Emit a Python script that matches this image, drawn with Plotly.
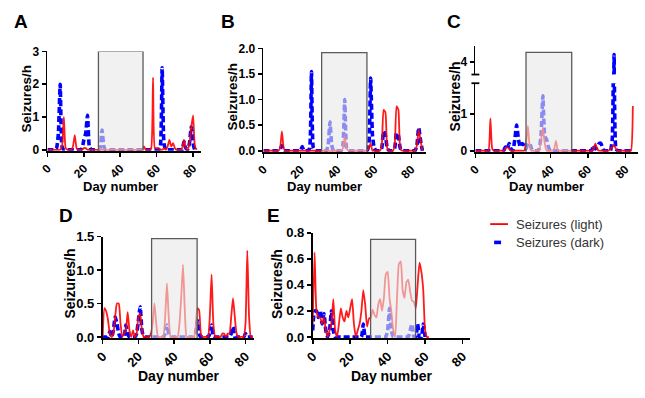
import plotly.graph_objects as go

W, H = 645, 398
RED = "#FF0000"
BLUE = "#0000FF"
FONT = "Liberation Sans"

# ---------------- data ----------------
days_A = list(range(0, 83))
A_light = [0, 0, 0, 0, 0, 0, 0, 0, 0.1, 1.0,
           0.05, 0, 0, 0, 0.1, 0.45, 0.05, 0, 0, 0,
           0.05, 0.05, 0, 0, 0, 0, 0, 0, 0, 0.05,
           0, 0, 0, 0, 0, 0, 0, 0, 0, 0,
           0, 0, 0, 0, 0, 0, 0, 0, 0, 0,
           0, 0, 0, 0.1, 0, 0, 0, 0.05, 2.2, 0.05,
           0.05, 0.05, 0, 0, 0.05, 0, 0.1, 0.3, 0.1, 0.2,
           0.05, 0, 0, 0, 0.05, 0.3, 0.05, 0, 0.2, 0.7,
           1.05, 0.1, 0]
A_dark = [0, 0, 0, 0, 0, 0.05, 0.5, 2.0, 0.1, 0,
          0, 0, 0, 0, 0, 0, 0, 0, 0, 0.05,
          0.3, 0.5, 1.05, 0.1, 0, 0, 0, 0, 0, 0.05,
          0.6, 0.1, 0, 0, 0, 0, 0, 0, 0, 0,
          0, 0, 0, 0, 0, 0, 0, 0, 0, 0,
          0, 0, 0, 0, 0, 0, 0, 0, 0, 0,
          0, 0, 0.1, 2.5, 0.2, 0, 0, 0, 0, 0,
          0, 0, 0, 0, 0, 0.25, 0.05, 0, 0.2, 0.7,
          0.2, 0, 0]

days_B = list(range(0, 87))
B_light = [0, 0, 0, 0, 0, 0, 0, 0, 0, 0.05,
           0.38, 0.05, 0, 0, 0, 0, 0, 0, 0, 0,
           0, 0, 0, 0, 0, 0, 0, 0, 0, 0,
           0, 0, 0, 0, 0, 0, 0, 0, 0, 0,
           0, 0, 0, 0.05, 0.28, 0.05, 0, 0, 0, 0,
           0, 0, 0, 0, 0, 0, 0, 0.05, 0.15, 0,
           0, 0, 0, 0, 0.1, 0.8, 0.75, 0.05, 0, 0,
           0, 0.1, 0.87, 0.8, 0.05, 0, 0, 0, 0, 0,
           0, 0, 0, 0.1, 0.42, 0.2, 0]
B_dark = [0, 0, 0, 0, 0, 0, 0, 0, 0, 0.02,
          0.1, 0, 0, 0, 0, 0, 0, 0, 0, 0,
          0, 0.08, 0, 0, 0, 0.05, 1.55, 0.05, 0, 0,
          0, 0, 0, 0, 0, 0.1, 0.56, 0.1, 0, 0,
          0, 0, 0, 0.1, 1.0, 0.05, 0, 0, 0, 0,
          0, 0, 0, 0, 0, 0, 0, 0.1, 1.42, 0.3,
          0.05, 0, 0, 0, 0.05, 0.38, 0.3, 0.05, 0, 0,
          0, 0.05, 0.35, 0.3, 0.05, 0, 0, 0, 0, 0,
          0, 0, 0, 0.1, 0.45, 0.2, 0]

days_C = list(range(0, 85))
C_light = [0, 0, 0, 0, 0, 0, 0, 0, 0.88, 0.05,
           0, 0, 0, 0, 0, 0, 0.05, 0.1, 0.05, 0,
           0, 0, 0, 0, 0, 0, 0, 0.2, 0.68, 0.1,
           0, 0, 0, 0, 0, 0.3, 0.63, 0.2, 0, 0,
           0, 0, 0.05, 0.27, 0, 0, 0, 0, 0, 0,
           0, 0, 0, 0, 0, 0, 0, 0, 0, 0,
           0, 0, 0, 0.05, 0.2, 0.05, 0, 0, 0, 0,
           0, 0, 0.05, 0.1, 0.15, 0.05, 0, 0, 0, 0,
           0, 0, 0, 0, 1.22]
C_dark = [0, 0, 0, 0, 0, 0, 0, 0, 0, 0,
          0, 0, 0, 0, 0, 0, 0.1, 0.05, 0.2, 0.05,
          0, 0.3, 0.7, 0.3, 0.1, 0.2, 0.15, 0.05, 0.2, 0.2,
          0.05, 0, 0, 0, 0.05, 0.4, 1.5, 0.4, 0.3, 0.1,
          0, 0, 0, 0, 0, 0, 0, 0, 0, 0,
          0, 0, 0, 0, 0, 0, 0, 0, 0, 0,
          0, 0, 0, 0.15, 0.05, 0.1, 0.2, 0.2, 0.05, 0,
          0, 0, 0, 0.3, 4.2, 0.05, 0, 0, 0, 0,
          0, 0, 0, 0, 0]

days_D = list(range(0, 85))
D_light = [0, 0.43, 0.38, 0.25, 0.05, 0, 0.05, 0.3, 0.5, 0.5,
           0.2, 0, 0.05, 0.1, 0.37, 0.1, 0, 0.1, 0, 0.05,
           0.3, 0.35, 0.1, 0, 0, 0, 0, 0.05, 0.2, 0.5,
           0.2, 0, 0, 0, 0, 0.3, 0.8, 0.3, 0, 0,
           0, 0, 0, 0.2, 0.6, 1.08, 0.4, 0, 0, 0,
           0, 0, 0.1, 0.43, 0.4, 0.05, 0, 0, 0, 0,
           0.3, 0.93, 0.2, 0, 0, 0, 0, 0.05, 0.05, 0,
           0.05, 0.05, 0.3, 0.58, 0.3, 0.05, 0, 0, 0, 0,
           0.2, 1.29, 0.3, 0, 0]
D_dark = [0, 0, 0, 0, 0.08, 0, 0.1, 0.3, 0.2, 0.05,
          0, 0, 0, 0.18, 0.05, 0, 0, 0, 0, 0.05,
          0.25, 0.45, 0.1, 0, 0, 0, 0, 0, 0, 0,
          0, 0, 0, 0, 0, 0.05, 0.18, 0.05, 0, 0,
          0, 0, 0, 0, 0, 0, 0, 0, 0, 0,
          0, 0, 0.05, 0.25, 0.05, 0, 0, 0, 0, 0,
          0.05, 0.18, 0, 0, 0, 0, 0, 0, 0, 0,
          0, 0, 0.05, 0.15, 0, 0, 0, 0, 0, 0,
          0.05, 0, 0, 0, 0]

days_E_light = list(range(0, 63))
E_light = [0.1, 0.65, 0.2, 0.15, 0.15, 0.1, 0.15, 0.05, 0, 0.05,
           0.1, 0.29, 0.05, 0, 0.1, 0.22, 0.15, 0.12, 0.2, 0.15,
           0.22, 0.29, 0.1, 0, 0.05, 0.1, 0.2, 0.36, 0.25, 0.08,
           0.14, 0.15, 0.21, 0.17, 0.15, 0.25, 0.29, 0.2, 0.3, 0.48,
           0.5, 0.3, 0.19, 0.05, 0, 0.3, 0.56, 0.58, 0.36, 0.3,
           0.42, 0.44, 0.35, 0.28, 0.27, 0.22, 0.4, 0.57, 0.5, 0.36,
           0.05, 0, 0]
days_E_dark = list(range(0, 61))
E_dark = [0.05, 0.2, 0.2, 0.15, 0.2, 0.1, 0.18, 0.05, 0, 0.05,
          0.2, 0.05, 0, 0, 0, 0, 0, 0, 0, 0,
          0, 0, 0, 0, 0, 0, 0, 0.1, 0, 0,
          0, 0, 0, 0, 0, 0, 0, 0, 0, 0,
          0.05, 0.22, 0.05, 0, 0, 0, 0, 0, 0, 0,
          0, 0, 0.05, 0.1, 0, 0, 0.1, 0, 0, 0.1,
          0]

# treatment periods (days)
box_A = [28, 52.5]
box_B = [31.5, 56]
box_C = [27, 51.4]
box_D = [27.4, 52.9]
box_E = [30.9, 54.9]

x_ticks = [0, 20, 40, 60, 80]
yt_A = [0, 1, 2, 3]
yt_B = [0, 0.5, 1.0, 1.5, 2.0]
yt_B_text = ["0.0", "0.5", "1.0", "1.5", "2.0"]
yt_C_low = [0, 1]
yt_C_high = [4]
yt_D = [0, 0.5, 1.0, 1.5]
yt_D_text = ["0.0", "0.5", "1.0", "1.5"]
yt_E = [0, 0.2, 0.4, 0.6, 0.8]
yt_E_text = ["0.0", "0.2", "0.4", "0.6", "0.8"]

legend_names = ["Seizures (light)", "Seizures (dark)"]

# ---------------- layout helpers ----------------
def px(p):
    return p / W


def py(p):
    return 1 - p / H


fig = go.Figure()
layout = dict(width=W, height=H, margin=dict(l=0, r=0, t=0, b=0),
              plot_bgcolor="white", paper_bgcolor="white", showlegend=False)
shapes = []
annotations = []

def axis_style(size):
    return dict(showline=True, linecolor="black", linewidth=1.8, ticks="outside",
                ticklen=4, tickwidth=1.6, tickcolor="black", showgrid=False,
                zeroline=False,
                tickfont=dict(family=FONT, size=size, color="black", weight="bold"))

panels = [
    dict(n="", days_l=days_A, light=A_light, days_d=days_A, dark=A_dark,
         xpx=(39, 195), xmax=84.5, zero_py=148, top_py=46, ymax=3.0,
         yt=yt_A, ytt=[str(v) for v in yt_A], box=box_A, boxtop=3.0, fs=12),
    dict(n="2", days_l=days_B, light=B_light, days_d=days_B, dark=B_dark,
         xpx=(258, 423), xmax=88, zero_py=149, top_py=43, ymax=2.0,
         yt=yt_B, ytt=yt_B_text, box=box_B, boxtop=1.92, fs=12),
    dict(n="3", days_l=days_C, light=C_light, days_d=days_C, dark=C_dark,
         xpx=(473, 638), xmax=86.8, zero_py=149, top_py=79, ymax=70 / 38,
         yt=yt_C_low, ytt=[str(v) for v in yt_C_low], box=box_C, boxtop=None, fs=12),
    dict(n="4", days_l=days_D, light=D_light, days_d=days_D, dark=D_dark,
         xpx=(95, 248), xmax=84.5, zero_py=342, top_py=238, ymax=1.5,
         yt=yt_D, ytt=yt_D_text, box=box_D, boxtop=1.47, fs=13),
    dict(n="5", days_l=days_E_light, light=E_light, days_d=days_E_dark, dark=E_dark,
         xpx=(308, 468), xmax=84.2, zero_py=342, top_py=234, ymax=0.8,
         yt=yt_E, ytt=yt_E_text, box=box_E, boxtop=0.75, fs=13),
]

def add_traces(days_l, light, days_d, dark, xa, ya):
    fig.add_trace(go.Scatter(x=days_d, y=dark, mode="lines", xaxis=xa, yaxis=ya,
                             line=dict(color=BLUE, width=3.6, dash="6px,3px",
                                       shape="spline", smoothing=0.5),
                             name=legend_names[1], hoverinfo="skip"))
    fig.add_trace(go.Scatter(x=days_l, y=light, mode="lines", xaxis=xa, yaxis=ya,
                             line=dict(color=RED, width=1.8, shape="spline", smoothing=0.5),
                             opacity=0.9, name=legend_names[0], hoverinfo="skip"))

for p in panels:
    n = p["n"]
    xa, ya = "x" + n, "y" + n
    scale = (p["zero_py"] - p["top_py"]) / p["ymax"]
    lo = -1.0 / scale
    xs = axis_style(p["fs"])
    xs.update(domain=[px(p["xpx"][0]), px(p["xpx"][1])], range=[0, p["xmax"]],
              tickvals=x_ticks, tickangle=-45, anchor=ya)
    ys = axis_style(p["fs"])
    ys.update(domain=[py(p["zero_py"] + 1.0), py(p["top_py"])], range=[lo, p["ymax"]],
              tickvals=p["yt"], ticktext=p["ytt"], anchor=xa)
    layout["xaxis" + n] = xs
    layout["yaxis" + n] = ys
    add_traces(p["days_l"], p["light"], p["days_d"], p["dark"], xa, ya)

    b0, b1 = p["box"]
    if p["boxtop"] is not None:
        yref, ybot, ytop = ya, lo, p["boxtop"]
    else:
        yref, ybot, ytop = "paper", py(p["zero_py"] + 1.0), py(47)
    shapes.append(dict(type="rect", xref=xa, yref=yref, x0=b0, x1=b1, y0=ybot, y1=ytop,
                       fillcolor="rgba(232,232,232,0.6)", line=dict(width=0), layer="above"))
    shapes.append(dict(type="path", xref=xa, yref=yref,
                       path=f"M {b0},{ybot} L {b0},{ytop} L {b1},{ytop} L {b1},{ybot}",
                       line=dict(color="#5a5a5a", width=1.3), layer="above"))

# panel C upper (broken axis) segment
C = panels[2]
up_range = [3.65, 4.45]
xs6 = dict(domain=[px(C["xpx"][0]), px(C["xpx"][1])], range=[0, C["xmax"]],
           visible=False, anchor="y6")
ys6 = axis_style(12)
ys6.update(domain=[py(70), py(40)], range=up_range, tickvals=yt_C_high,
           ticktext=[str(v) for v in yt_C_high], anchor="x6")
layout["xaxis6"] = xs6
layout["yaxis6"] = ys6
add_traces(C["days_l"], C["light"], C["days_d"], C["dark"], "x6", "y6")
for yy in (70, 79):
    shapes.append(dict(type="line", xref="paper", yref="paper", x0=px(469), x1=px(477),
                       y0=py(yy), y1=py(yy), line=dict(color="black", width=1.8)))

# titles and labels
ytitle_pos = [(18, 95, 13.5), (227, 93, 13.5), (452, 93, 14), (61.5, 287, 14), (272, 287, 14)]
xtitle_pos = [(113, 186, 13), (320, 186, 13), (545, 186, 13), (172, 382, 14), (388, 382, 14)]
letters = [("A", 12.5, 15), ("B", 222, 15), ("C", 451, 15), ("D", 57.5, 216), ("E", 268, 216)]

for (x0, y0, s) in ytitle_pos:
    annotations.append(dict(x=px(x0), y=py(y0), xref="paper", yref="paper", text="Seizures/h",
                            textangle=-90, showarrow=False, xanchor="center", yanchor="middle",
                            font=dict(family=FONT, size=s, color="black", weight="bold")))
for (x0, y0, s) in xtitle_pos:
    annotations.append(dict(x=px(x0), y=py(y0), xref="paper", yref="paper", text="Day number",
                            showarrow=False, xanchor="center", yanchor="middle",
                            font=dict(family=FONT, size=s, color="black", weight="bold")))
for (t, x0, y0) in letters:
    annotations.append(dict(x=px(x0), y=py(y0), xref="paper", yref="paper", text=t,
                            showarrow=False, xanchor="center", yanchor="middle",
                            font=dict(family=FONT, size=19, color="black", weight="bold")))

# legend
shapes.append(dict(type="line", xref="paper", yref="paper", x0=px(488), x1=px(506),
                   y0=py(225), y1=py(225), line=dict(color=RED, width=1.8)))
shapes.append(dict(type="line", xref="paper", yref="paper", x0=px(492), x1=px(499),
                   y0=py(244), y1=py(244), line=dict(color=BLUE, width=3.6)))
for name, yy in zip(legend_names, (225, 244)):
    annotations.append(dict(x=px(512), y=py(yy), xref="paper", yref="paper", text=name,
                            showarrow=False, xanchor="left", yanchor="middle",
                            font=dict(family=FONT, size=13, color="#333333")))

layout["shapes"] = shapes
layout["annotations"] = annotations
fig.update_layout(**layout)
fig.write_html("out.html", config={"displayModeBar": False, "staticPlot": True},
               post_script="document.body.style.margin='0';document.body.style.overflow='hidden';")
